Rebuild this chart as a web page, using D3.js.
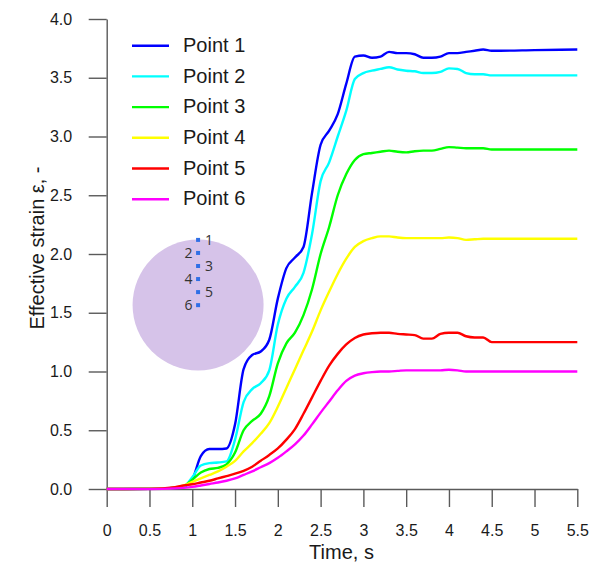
<!DOCTYPE html>
<html>
<head>
<meta charset="utf-8">
<script src="https://cdn.jsdelivr.net/npm/d3@7"></script>
<style>
  html, body { margin: 0; padding: 0; background: #fff; }
  svg { display: block; font-family: "Liberation Sans", Arial, sans-serif; }
</style>
</head>
<body>
<svg id="chart" width="595" height="563"></svg>
<script>
// ---------------- DATA ----------------
const time = [0, 0.5, 0.8, 0.9, 1.0, 1.1, 1.2, 1.3, 1.4, 1.5, 1.6, 1.7, 1.8, 1.9, 2.0, 2.1, 2.2, 2.3, 2.4, 2.5,
  2.6, 2.7, 2.8, 2.9, 3.0, 3.1, 3.2, 3.3, 3.4, 3.5, 3.6, 3.7, 3.8, 3.9, 4.0, 4.1, 4.2, 4.3, 4.4, 4.5, 4.6, 5.0, 5.5];

const point1 = [0, 0.002, 0.01, 0.02, 0.08, 0.28, 0.34, 0.34, 0.345, 0.55, 1.02, 1.14, 1.17, 1.27, 1.62, 1.88, 1.97, 2.06, 2.52, 2.93,
  3.05, 3.19, 3.45, 3.68, 3.69, 3.67, 3.68, 3.72, 3.71, 3.71, 3.70, 3.67, 3.67, 3.68, 3.71, 3.71, 3.72, 3.73, 3.74, 3.73, 3.73, 3.735, 3.74];
const point2 = [0, 0.002, 0.01, 0.02, 0.10, 0.20, 0.22, 0.225, 0.235, 0.42, 0.74, 0.85, 0.90, 1.01, 1.40, 1.62, 1.72, 1.84, 2.17, 2.62,
  2.78, 3.00, 3.22, 3.49, 3.54, 3.56, 3.575, 3.59, 3.57, 3.56, 3.555, 3.54, 3.54, 3.55, 3.58, 3.575, 3.54, 3.53, 3.53, 3.52, 3.52, 3.52, 3.52];
const point3 = [0, 0.002, 0.012, 0.025, 0.08, 0.14, 0.17, 0.18, 0.21, 0.31, 0.50, 0.58, 0.64, 0.79, 1.07, 1.24, 1.33, 1.48, 1.70, 2.00,
  2.23, 2.50, 2.68, 2.80, 2.85, 2.86, 2.87, 2.88, 2.87, 2.865, 2.875, 2.88, 2.88, 2.895, 2.91, 2.905, 2.90, 2.90, 2.90, 2.89, 2.89, 2.89, 2.89];
const point4 = [0, 0.002, 0.01, 0.03, 0.06, 0.09, 0.12, 0.15, 0.19, 0.24, 0.32, 0.39, 0.47, 0.56, 0.70, 0.86, 1.02, 1.18, 1.34, 1.52,
  1.68, 1.83, 1.96, 2.06, 2.11, 2.135, 2.15, 2.15, 2.14, 2.135, 2.135, 2.135, 2.135, 2.135, 2.14, 2.135, 2.12, 2.125, 2.13, 2.13, 2.13, 2.13, 2.13];
const point5 = [0, 0.001, 0.015, 0.03, 0.04, 0.055, 0.07, 0.09, 0.11, 0.13, 0.155, 0.19, 0.24, 0.29, 0.345, 0.42, 0.51, 0.64, 0.78, 0.92,
  1.05, 1.15, 1.23, 1.285, 1.315, 1.325, 1.33, 1.33, 1.32, 1.315, 1.31, 1.28, 1.28, 1.32, 1.33, 1.33, 1.30, 1.29, 1.29, 1.25, 1.25, 1.25, 1.25];
const point6 = [0, 0, 0.005, 0.01, 0.018, 0.03, 0.043, 0.055, 0.07, 0.09, 0.12, 0.15, 0.185, 0.22, 0.265, 0.32, 0.38, 0.455, 0.55, 0.65,
  0.745, 0.84, 0.92, 0.965, 0.985, 0.995, 1.0, 1.0, 1.005, 1.01, 1.01, 1.01, 1.01, 1.01, 1.015, 1.01, 1.0, 1.0, 1.0, 1.0, 1.0, 1.0, 1.0];

const seriesNames = ["Point 1", "Point 2", "Point 3", "Point 4", "Point 5", "Point 6"];
const seriesValues = [point1, point2, point3, point4, point5, point6];
const seriesColors = ["#0000ff", "#00ffff", "#00ff00", "#ffff00", "#ff0000", "#ff00ff"];

const xTicks = [0, 0.5, 1, 1.5, 2, 2.5, 3, 3.5, 4, 4.5, 5, 5.5];
const xTickLabels = ["0", "0.5", "1", "1.5", "2", "2.5", "3", "3.5", "4", "4.5", "5", "5.5"];
const yTicks = [0, 0.5, 1, 1.5, 2, 2.5, 3, 3.5, 4];
const yTickLabels = ["0.0", "0.5", "1.0", "1.5", "2.0", "2.5", "3.0", "3.5", "4.0"];

const xTitle = "Time, s";
const yTitle = "Effective strain \u03b5,  -";

// inset sketch: probe points numbered 1..6 on a circular cross-section
const insetLabels = ["1", "2", "3", "4", "5", "6"];

// ---------------- LAYOUT ----------------
const svg = d3.select("#chart");
const plotLeft = 106.7, plotRight = 577.3, plotTop = 19, plotBottom = 489;
const axisColor = "#5a5a5a";

const x = d3.scaleLinear().domain([0, 5.5]).range([plotLeft, plotRight]);
const y = d3.scaleLinear().domain([0, 4]).range([plotBottom, plotTop]);

const minorX = d3.range(0, 5.5001, 0.1).map(v => +v.toFixed(2));
const minorY = d3.range(0, 4.0001, 0.1).map(v => +v.toFixed(2));

// ---------------- INSET ----------------
const inset = svg.append("g");
const cx = x(1.068), cy = y(1.566), r = 65.5;
inset.append("circle").attr("cx", cx).attr("cy", cy).attr("r", r).attr("fill", "#d6c3e9");
const dotStep = 13.05;
insetLabels.forEach((lab, i) => {
  const py = cy - r + 0.4 + i * dotStep;
  inset.append("rect").attr("x", cx - 2).attr("y", py - 2).attr("width", 4).attr("height", 4).attr("fill", "#2f6fe6");
  const right = i % 2 === 0;
  inset.append("text")
    .attr("x", right ? cx + 7 : cx - 5.5)
    .attr("y", py + 5)
    .attr("text-anchor", right ? "start" : "end")
    .attr("font-size", 14)
    .attr("fill", "#333")
    .attr("font-family", "'Open Sans', 'Liberation Sans', Arial, sans-serif")
    .text(lab);
});

// ---------------- AXES ----------------
const gx = svg.append("g").attr("transform", `translate(0,${plotBottom})`);
gx.call(d3.axisBottom(x).tickValues(minorX).tickFormat("").tickSize(8).tickSizeOuter(0));
gx.call(d3.axisBottom(x).tickValues(xTicks).tickFormat((d, i) => xTickLabels[i]).tickSize(18).tickSizeOuter(0).tickPadding(18));

const gy = svg.append("g").attr("transform", `translate(${plotLeft},0)`);
gy.call(d3.axisLeft(y).tickValues(minorY).tickFormat("").tickSize(9).tickSizeOuter(0));
gy.call(d3.axisLeft(y).tickValues(yTicks).tickFormat((d, i) => yTickLabels[i]).tickSize(18).tickSizeOuter(0).tickPadding(16.5));

svg.selectAll(".domain").attr("stroke", axisColor).attr("stroke-width", 1.4);
svg.selectAll(".tick line").attr("stroke", axisColor).attr("stroke-width", 1.4);
svg.selectAll(".tick text").attr("font-size", 16).attr("fill", "#1a1a1a")
  .attr("font-family", "'Liberation Sans', Arial, sans-serif");

svg.append("text").attr("x", (plotLeft + plotRight) / 2 - 0.5).attr("y", 558.5)
  .attr("text-anchor", "middle").attr("font-size", 20).attr("fill", "#1a1a1a").text(xTitle);
svg.append("text").attr("transform", `translate(44,248) rotate(-90)`)
  .attr("text-anchor", "middle").attr("font-size", 20).attr("fill", "#1a1a1a").text(yTitle);

// ---------------- LINES ----------------
const line = d3.line().x(d => x(d[0])).y(d => y(d[1])).curve(d3.curveMonotoneX);
seriesValues.forEach((vals, i) => {
  const pts = time.map((t, j) => [t, vals[j]]);
  svg.append("path").datum(pts).attr("d", line)
    .attr("fill", "none").attr("stroke", seriesColors[i]).attr("stroke-width", 2.4)
    .attr("stroke-linejoin", "round");
});

// ---------------- LEGEND ----------------
const legend = svg.append("g");
seriesNames.forEach((name, i) => {
  const ly = 45.7 + i * 30.7;
  legend.append("line").attr("x1", 132).attr("x2", 169).attr("y1", ly).attr("y2", ly)
    .attr("stroke", seriesColors[i]).attr("stroke-width", 2.4);
  legend.append("text").attr("x", 183).attr("y", ly + 6.2).attr("font-size", 20).attr("fill", "#1a1a1a").text(name);
});
</script>
</body>
</html>
